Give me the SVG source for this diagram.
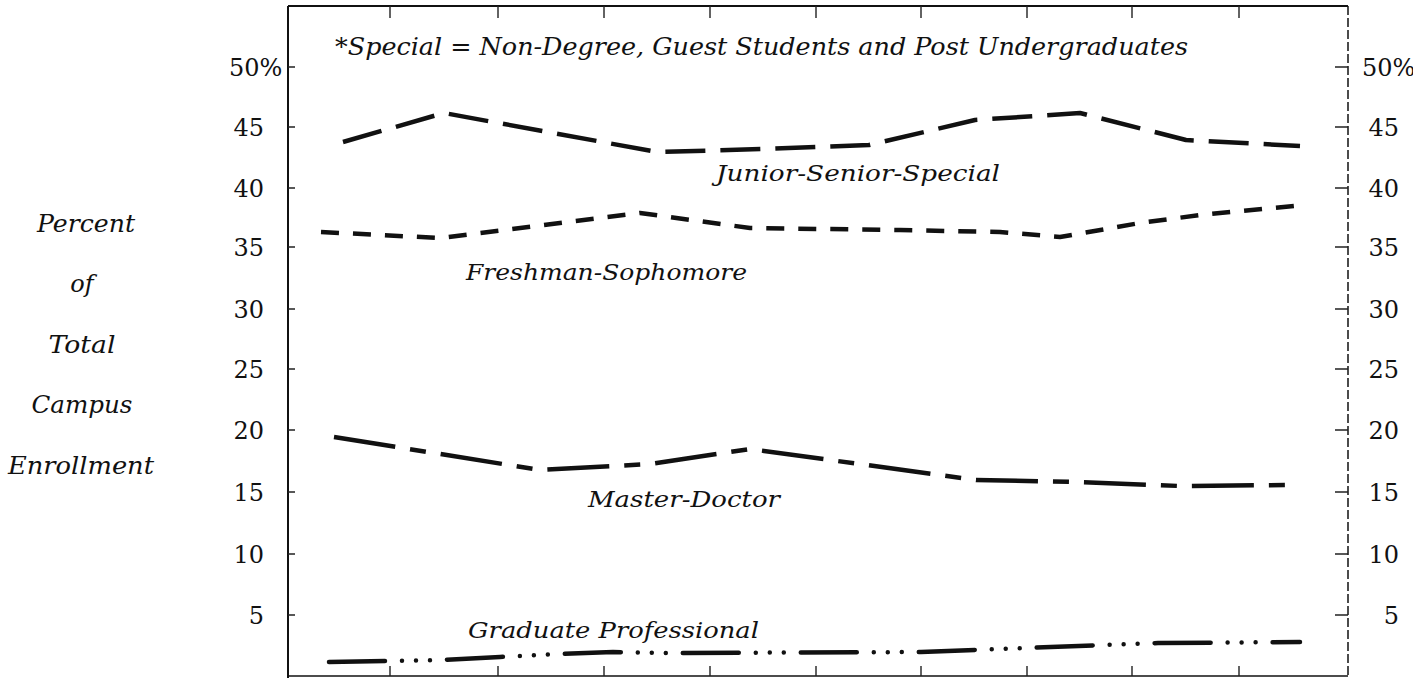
<svg xmlns="http://www.w3.org/2000/svg" width="1413" height="678" viewBox="0 0 1413 678">
<style>
.frame{stroke:#111;fill:none}
.tick{stroke:#222;stroke-width:1.4;fill:none}
.num{font-family:"DejaVu Serif","Liberation Serif",serif;font-size:24px;fill:#111}
.lbl{font-family:"DejaVu Serif","Liberation Serif",serif;font-style:italic;font-size:23px;fill:#111}
.axl{font-family:"DejaVu Serif","Liberation Serif",serif;font-style:italic;font-size:24px;fill:#111}
.series{fill:none;stroke:#111;stroke-width:4.5;stroke-linejoin:round}
</style>
<rect width="1413" height="678" fill="#fff"/>
<g id="frame">
<line class="frame" x1="288" y1="6" x2="1348" y2="6" stroke-width="2.2"/>
<line class="frame" x1="288" y1="6" x2="288" y2="678" stroke-width="2"/>
<line class="frame" x1="1348" y1="6" x2="1348" y2="678" stroke-width="1.5" stroke-dasharray="9 3"/>
<line class="frame" x1="288" y1="676" x2="1348" y2="676" stroke-width="1.4"/>
<path class="tick" d="M390 6V18M498 6V18M604 6V18M710 6V18M816 6V18M921 6V18M1027 6V18M1132 6V18M1239 6V18"/>
<path class="tick" d="M390 676V666M498 676V666M604 676V666M710 676V666M816 676V666M921 676V666M1027 676V666M1132 676V666M1239 676V666"/>
<path class="tick" d="M288 67h7M288 127h7M288 188h7M288 247h7M288 309h7M288 369h7M288 430h7M288 492h7M288 554h7M288 615h7"/>
<path class="tick" d="M1335 67h13M1335 127h13M1335 188h13M1335 247h13M1335 309h13M1335 369h13M1335 430h13M1335 492h13M1335 554h13M1335 615h13"/>
</g>
<g id="left-scale">
<text class="num" x="229" y="76">50%</text>
<text class="num" x="264" y="136" text-anchor="end">45</text>
<text class="num" x="264" y="197" text-anchor="end">40</text>
<text class="num" x="264" y="256" text-anchor="end">35</text>
<text class="num" x="264" y="318" text-anchor="end">30</text>
<text class="num" x="264" y="378" text-anchor="end">25</text>
<text class="num" x="264" y="439" text-anchor="end">20</text>
<text class="num" x="264" y="501" text-anchor="end">15</text>
<text class="num" x="264" y="563" text-anchor="end">10</text>
<text class="num" x="264" y="624" text-anchor="end">5</text>
</g>
<g id="right-scale">
<text class="num" x="1362" y="76">50%</text>
<text class="num" x="1399" y="136" text-anchor="end">45</text>
<text class="num" x="1399" y="197" text-anchor="end">40</text>
<text class="num" x="1399" y="256" text-anchor="end">35</text>
<text class="num" x="1399" y="318" text-anchor="end">30</text>
<text class="num" x="1399" y="378" text-anchor="end">25</text>
<text class="num" x="1399" y="439" text-anchor="end">20</text>
<text class="num" x="1399" y="501" text-anchor="end">15</text>
<text class="num" x="1399" y="563" text-anchor="end">10</text>
<text class="num" x="1399" y="624" text-anchor="end">5</text>
</g>
<g id="axis-title">
<text class="axl" x="86" y="232" text-anchor="middle" textLength="98" lengthAdjust="spacingAndGlyphs">Percent</text>
<text class="axl" x="82" y="292" text-anchor="middle">of</text>
<text class="axl" x="82" y="353" text-anchor="middle" textLength="67" lengthAdjust="spacingAndGlyphs">Total</text>
<text class="axl" x="82" y="413" text-anchor="middle" textLength="101" lengthAdjust="spacingAndGlyphs">Campus</text>
<text class="axl" x="81" y="474" text-anchor="middle" textLength="146" lengthAdjust="spacingAndGlyphs">Enrollment</text>
</g>
<g id="note">
<text class="axl" x="335" y="55" textLength="853" lengthAdjust="spacingAndGlyphs">*Special = Non-Degree, Guest Students and Post Undergraduates</text>
</g>
<g id="connectors">
<polyline id="jss-line" class="series" stroke-dasharray="40 15" points="343,142 444,113 657,152 763,149 869,145 975,120 1080,113 1186,140 1300,146"/>
<polyline id="fs-line" class="series" stroke-dasharray="18 14" points="321,232 440,238 640,213 750,228 900,230 1000,232 1060,237 1140,223 1200,215 1294,206"/>
<polyline id="md-line" class="series" stroke-dasharray="62 15 16 15" points="334,437 540,470 650,464 750,449 976,480 1080,482 1180,486 1298,485"/>
<polyline id="gp-line" class="series" stroke-width="4.2" stroke-linecap="round" stroke-dasharray="56 17 0 14 0 14 0 17" points="329,662 390,661 440,660 500,657 560,654 613,652 669,653 921,652 1025,648 1158,643 1300,642"/>
</g>
<g id="jss">
<text class="lbl" x="716" y="181" textLength="284" lengthAdjust="spacingAndGlyphs">Junior-Senior-Special</text>
</g>
<g id="fs">
<text class="lbl" x="466" y="280" textLength="281" lengthAdjust="spacingAndGlyphs">Freshman-Sophomore</text>
</g>
<g id="md">
<text class="lbl" x="588" y="507" textLength="192" lengthAdjust="spacingAndGlyphs">Master-Doctor</text>
</g>
<g id="gp">
<text class="lbl" x="468" y="638" textLength="291" lengthAdjust="spacingAndGlyphs">Graduate Professional</text>
</g>
</svg>
